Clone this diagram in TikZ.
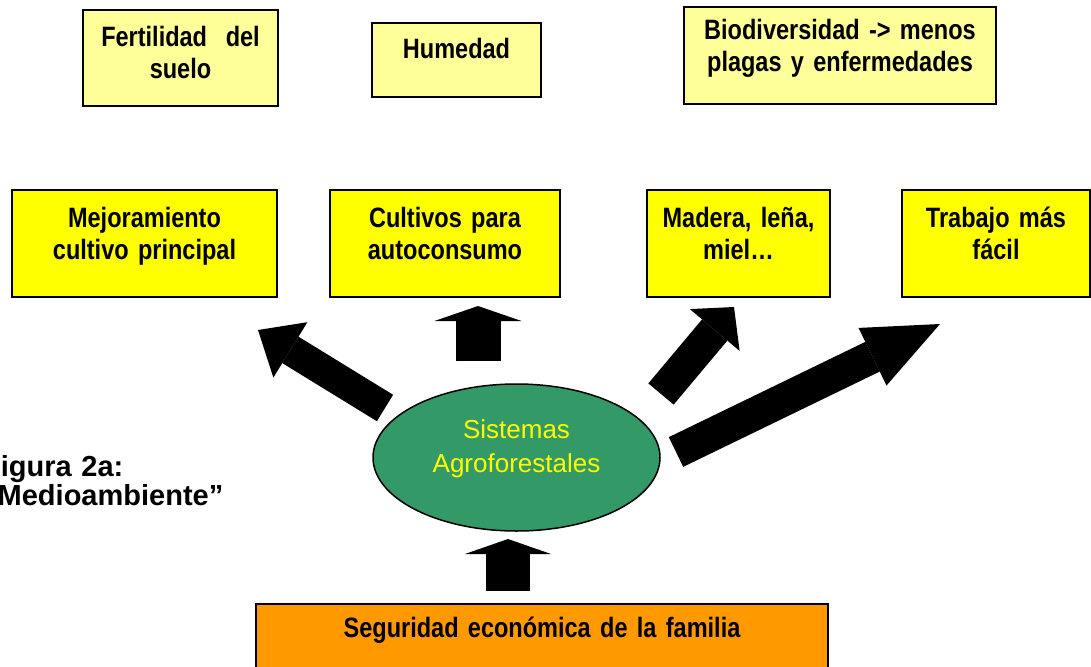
\documentclass[tikz,border=0pt]{standalone}
\usepackage{fontspec}
\setmainfont{Liberation Sans}
\newfontfamily\etroite[FakeStretch=0.84]{Liberation Sans}
\usetikzlibrary{arrows.meta,shapes.geometric}
\definecolor{jaune}{HTML}{FFFF00}
\definecolor{jaunepale}{HTML}{FFFF99}
\definecolor{vertsaf}{HTML}{339966}
\definecolor{orangeseg}{HTML}{FF9900}
\newcommand{\tailleb}{\etroite\bfseries\fontsize{28}{32}\selectfont}

\begin{document}
\begin{tikzpicture}[x=1pt,y=-1pt,
    boite/.style={draw,line width=1.5pt,inner sep=0pt,align=center,font=\tailleb},
    fleche/.style n args={3}{line width=#1,-{Triangle[length=#2,width=#3,line width=0pt]}}]
        \useasboundingbox (0,0) rectangle (1091,666);
        \node[boite,fill=jaunepale,text width=195pt,text height=37pt,text depth=59pt] (fert) at (180.5,58) {Fertilidad\ \ del\\ suelo};
        \node[boite,fill=jaunepale,text width=169pt,text height=36pt,text depth=38pt] (hum) at (456.5,60) {Humedad};
        \node[boite,fill=jaunepale,text width=312pt,text height=33pt,text depth=64pt] (bio) at (840,55.5) {Biodiversidad -> menos\\ plagas y enfermedades};
        \node[ellipse,draw,line width=1.5pt,fill=vertsaf,text=jaune,minimum width=287pt,minimum height=147pt,inner sep=0pt,text width=200pt,align=center,text height=20pt,text depth=59pt,font=\fontsize{26}{34}\selectfont] (saf) at (516.5,457.5) {Sistemas\\ Agroforestales};
        \node[boite,fill=jaune,text width=265pt,text height=37pt,text depth=70pt] (mejor) at (144.5,243.5) {Mejoramiento\\ cultivo principal};
        \coordinate (depmejor) at (385,408);
        \coordinate (finmejor) at (258,330);
        \draw[fleche={31pt}{38pt}{65pt}] (depmejor) -- (finmejor);
        \node[boite,fill=jaune,text width=230pt,text height=37pt,text depth=70pt] (cultiv) at (445,243.5) {Cultivos para\\ autoconsumo};
        \coordinate (depcultiv) at (478,361);
        \coordinate (fincultiv) at (478,306);
        \draw[fleche={45pt}{15pt}{87pt}] (depcultiv) -- (fincultiv);
        \node[boite,fill=jaune,text width=183pt,text height=37pt,text depth=70pt] (madera) at (738.5,243.5) {Madera, leña,\\ miel\ldots};
        \coordinate (depmadera) at (661,394);
        \coordinate (finmadera) at (734,307);
        \draw[fleche={33pt}{30pt}{65pt}] (depmadera) -- (finmadera);
        \node[boite,fill=jaune,text width=188pt,text height=37pt,text depth=70pt] (trab) at (996,243.5) {Trabajo más\\ fácil};
        \coordinate (deptrab) at (676,452);
        \coordinate (fintrab) at (940,324);
        \draw[fleche={33pt}{75pt}{64pt}] (deptrab) -- (fintrab);
        \node[boite,fill=orangeseg,text width=572pt,text height=33pt,text depth=43pt] (segur) at (542,642) {Seguridad económica de la familia};
        \coordinate (depsegur) at (508,591);
        \coordinate (finsegur) at (508,539);
        \draw[fleche={44pt}{15pt}{86pt}] (depsegur) -- (finsegur);
        \node[anchor=base west,inner sep=0pt,text width=300pt,align=left,font=\bfseries\fontsize{29}{29}\selectfont] (fig) at (-17,476) {Figura 2a:\\ “Medioambiente”};
\end{tikzpicture}
\end{document}
